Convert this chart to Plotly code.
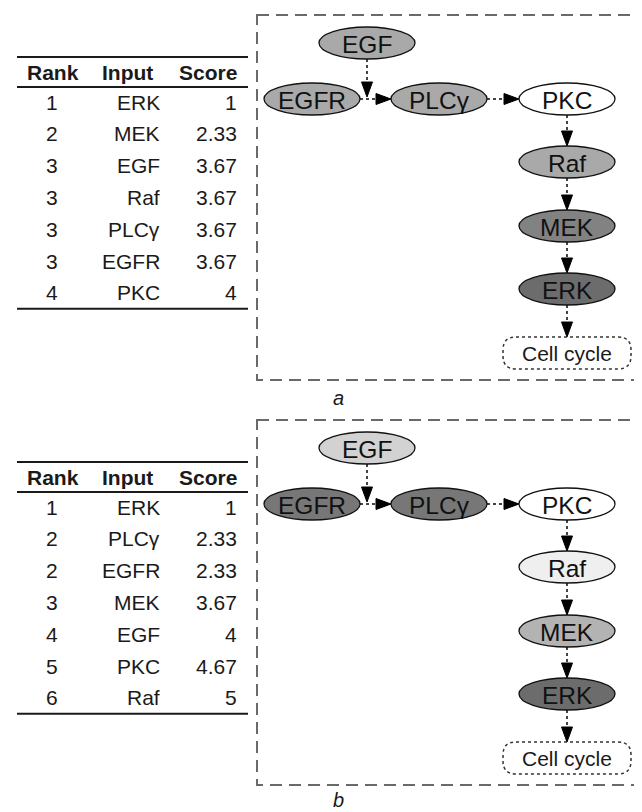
import plotly.graph_objects as go

# ---------------- data ----------------
panel_labels = ["a", "b"]

table_a_rank = [1, 2, 3, 3, 3, 3, 4]
table_a_input = ["ERK", "MEK", "EGF", "Raf", "PLCγ", "EGFR", "PKC"]
table_a_score = [1, 2.33, 3.67, 3.67, 3.67, 3.67, 4]

table_b_rank = [1, 2, 2, 3, 4, 5, 6]
table_b_input = ["ERK", "PLCγ", "EGFR", "MEK", "EGF", "PKC", "Raf"]
table_b_score = [1, 2.33, 2.33, 3.67, 4, 4.67, 5]

table_headers = ["Rank", "Input", "Score"]

node_names = ["EGF", "EGFR", "PLCγ", "PKC", "Raf", "MEK", "ERK", "Cell cycle"]
edges = [("EGF", "junction"), ("EGFR", "PLCγ"), ("PLCγ", "PKC"), ("PKC", "Raf"),
         ("Raf", "MEK"), ("MEK", "ERK"), ("ERK", "Cell cycle")]

# ---------------- styles / layout ----------------
FONT = "Liberation Sans, Arial, sans-serif"
fills_a = {"EGF": "#a9a9a9", "EGFR": "#a9a9a9", "PLCγ": "#a9a9a9", "PKC": "#ffffff",
           "Raf": "#a9a9a9", "MEK": "#828282", "ERK": "#6c6c6c"}
fills_b = {"EGF": "#d2d2d2", "EGFR": "#777777", "PLCγ": "#777777", "PKC": "#ffffff",
           "Raf": "#efefef", "MEK": "#b3b3b3", "ERK": "#6c6c6c"}

# node centres (pixel layout for panel a; panel b is shifted down)
node_pos = {"EGF": (367, 43), "EGFR": (312, 99), "PLCγ": (439, 99), "PKC": (567, 99),
            "Raf": (567, 162), "MEK": (567, 226), "ERK": (567, 289), "Cell cycle": (567, 353)}
RX, RY = 48, 16
CELL_HW, CELL_HH, CELL_R = 64, 16, 13
PANEL_OFFSET = [0, 405]
BOX = dict(x0=257, x1=638, y0=15, y1=380)
LABEL_Y = [398, 800]
LABEL_X = 338

HEADER_Y = 72
RULE_TOP, RULE_MID = 57, 87
ROW0, ROW_STEP = 102, 31.8
RULE_BOT_EXTRA = 16
TX0, TX1 = 17, 248
COL_RANK, COL_INPUT, COL_SCORE = 52, 162, 239
TABLE_FONT = 21
NODE_FONT = 24.5

# the page body has an 8px margin; compensate so coordinates are window pixels
PAGE_MARGIN = 8
W, H = 642, 812

fig = go.Figure()
fig.add_trace(go.Scatter(x=[PAGE_MARGIN], y=[PAGE_MARGIN], mode="markers",
                         marker=dict(opacity=0), hoverinfo="skip"))

shapes = []
annots = []


def txt(x, y, s, size=TABLE_FONT, anchor="center", bold=False, italic=False, color="#1a1a1a"):
    if bold:
        s = "<b>" + s + "</b>"
    if italic:
        s = "<i>" + s + "</i>"
    annots.append(dict(x=x, y=y, xref="x", yref="y", text=s, showarrow=False,
                       xanchor=anchor, yanchor="middle",
                       font=dict(family=FONT, size=size, color=color)))


def arrow(x0, y0, x1, y1):
    # dotted shaft + filled triangular head, tip at (x1, y1)
    L, W_ = 15, 5.5
    dx, dy = x1 - x0, y1 - y0
    n = (dx * dx + dy * dy) ** 0.5
    ux, uy = dx / n, dy / n
    bx, by = x1 - ux * L, y1 - uy * L
    shapes.append(dict(type="line", xref="x", yref="y", x0=x0, y0=y0, x1=bx, y1=by,
                       line=dict(color="#444444", width=2, dash="dot")))
    px, py = -uy, ux
    path = (f"M {x1},{y1} L {bx + px * W_},{by + py * W_} L {bx - px * W_},{by - py * W_} Z")
    shapes.append(dict(type="path", xref="x", yref="y", path=path,
                       fillcolor="#000000", line=dict(color="#000000", width=1)))


tables = [(table_a_rank, table_a_input, table_a_score),
          (table_b_rank, table_b_input, table_b_score)]
fills = [fills_a, fills_b]

for p, off in enumerate(PANEL_OFFSET):
    # ---- table ----
    ranks, inputs, scores = tables[p]
    txt(COL_RANK + 1, HEADER_Y + off, table_headers[0], bold=True)
    txt(COL_INPUT - 7, HEADER_Y + off, table_headers[1], anchor="right", bold=True)
    txt(COL_SCORE, HEADER_Y + off, table_headers[2], anchor="right", bold=True)
    for i, (r, inp, sc) in enumerate(zip(ranks, inputs, scores)):
        y = ROW0 + i * ROW_STEP + off
        txt(COL_RANK, y, str(r))
        txt(COL_INPUT, y, inp, anchor="right")
        txt(COL_SCORE, y, f"{sc:g}", anchor="right")
    last_y = ROW0 + (len(ranks) - 1) * ROW_STEP + off
    for yy in (RULE_TOP + off, RULE_MID + off, last_y + RULE_BOT_EXTRA):
        shapes.append(dict(type="line", xref="x", yref="y", x0=TX0, x1=TX1, y0=yy, y1=yy,
                           line=dict(color="#1a1a1a", width=2)))

    # ---- dashed frame ----
    shapes.append(dict(type="rect", xref="x", yref="y", x0=BOX["x0"], x1=BOX["x1"],
                       y0=BOX["y0"] + off, y1=BOX["y1"] + off,
                       line=dict(color="#6a6a6a", width=2, dash="12px,7px")))
    txt(LABEL_X, LABEL_Y[p], panel_labels[p], size=20, italic=True)

    # ---- edges ----
    for a, b in edges:
        ax, ay = node_pos[a]
        ay += off
        if b == "junction":
            jy = node_pos["EGFR"][1] + off
            arrow(ax, ay + RY, ax, jy - 2)
            continue
        bx_, by_ = node_pos[b]
        by_ += off
        if ay == by_:
            arrow(ax + RX, ay, bx_ - RX, by_)
        else:
            th = CELL_HH if b == "Cell cycle" else RY
            arrow(ax, ay + RY, bx_, by_ - th)

    # ---- nodes ----
    for name in node_names:
        cx, cy = node_pos[name]
        cy += off
        if name == "Cell cycle":
            x0, x1, y0, y1, r = cx - CELL_HW, cx + CELL_HW, cy - CELL_HH, cy + CELL_HH, CELL_R
            path = (f"M {x0 + r},{y0} L {x1 - r},{y0} Q {x1},{y0} {x1},{y0 + r} "
                    f"L {x1},{y1 - r} Q {x1},{y1} {x1 - r},{y1} L {x0 + r},{y1} "
                    f"Q {x0},{y1} {x0},{y1 - r} L {x0},{y0 + r} Q {x0},{y0} {x0 + r},{y0} Z")
            shapes.append(dict(type="path", xref="x", yref="y", path=path, fillcolor="#ffffff",
                               line=dict(color="#333333", width=1.5, dash="dot")))
            txt(cx, cy, name, size=21)
        else:
            shapes.append(dict(type="circle", xref="x", yref="y", x0=cx - RX, x1=cx + RX,
                               y0=cy - RY, y1=cy + RY, fillcolor=fills[p][name],
                               line=dict(color="#111111", width=1.3)))
            txt(cx, cy + 1, name, size=NODE_FONT, color="#111111")

fig.update_layout(
    width=W - PAGE_MARGIN, height=H - PAGE_MARGIN, margin=dict(l=0, r=0, t=0, b=0),
    paper_bgcolor="white", plot_bgcolor="white", showlegend=False,
    xaxis=dict(range=[PAGE_MARGIN, W], visible=False, fixedrange=True),
    yaxis=dict(range=[H, PAGE_MARGIN], visible=False, fixedrange=True),
    shapes=shapes, annotations=annots,
)

fig.write_html("out.html")
